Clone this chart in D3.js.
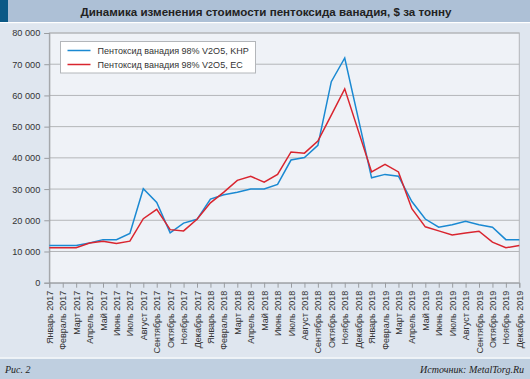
<!DOCTYPE html>
<html>
<head>
<meta charset="utf-8">
<script src="https://cdn.jsdelivr.net/npm/d3@7"></script>
<style>
  body { margin: 0; background: #dfe6ef; }
  svg { display: block; font-family: "Liberation Sans", Arial, sans-serif; }
</style>
</head>
<body>
<svg width="530" height="379"></svg>
<script>
// месяцы
var months = ["Январь 2017","Февраль 2017","Март 2017","Апрель 2017","Май 2017","Июнь 2017","Июль 2017","Август 2017","Сентябрь 2017","Октябрь 2017","Ноябрь 2017","Декабрь 2017",
  "Январь 2018","Февраль 2018","Март 2018","Апрель 2018","Май 2018","Июнь 2018","Июль 2018","Август 2018","Сентябрь 2018","Октябрь 2018","Ноябрь 2018","Декабрь 2018",
  "Январь 2019","Февраль 2019","Март 2019","Апрель 2019","Май 2019","Июнь 2019","Июль 2019","Август 2019","Сентябрь 2019","Октябрь 2019","Ноябрь 2019","Декабрь 2019"];

// KHP
var khp = [11900,11900,11900,12700,13800,13800,15800,30100,25700,16000,19100,20300,
  26800,28200,29000,30000,30000,31500,39300,40100,44000,64400,72000,52800,
  33600,34700,34100,26000,20400,17800,18600,19700,18600,17800,13800,13800];
// EC
var ec = [11200,11200,11200,12700,13300,12600,13300,20500,23500,17000,16600,20300,
  25600,29000,32800,34100,32200,34700,41900,41500,45400,53700,62100,48800,
  35500,37900,35500,23700,17900,16600,15300,15900,16500,13000,11200,11900];

var seriesNames = ["Пентоксид ванадия 98% V2O5, KHP", "Пентоксид ванадия 98% V2O5, EC"];
var seriesColors = ["#1a89d2", "#d9252f"];
var yTicks = [0,10000,20000,30000,40000,50000,60000,70000,80000];

var svg = d3.select("svg");
var W = 530, H = 379;
var margin = {top: 33, right: 10.7, bottom: 96.3, left: 49.3};

// фон
svg.append("rect").attr("width", W).attr("height", H).attr("fill", "#dfe6ef");

// заголовок
svg.append("rect").attr("x", 0).attr("y", 0).attr("width", W).attr("height", 22).attr("fill", "#adc0d6");
svg.append("rect").attr("x", 0).attr("y", 0).attr("width", 8).attr("height", 22).attr("fill", "#0b5986");
svg.append("rect").attr("x", 0).attr("y", 22).attr("width", W).attr("height", 1.2).attr("fill", "#ffffff");
svg.append("text")
  .attr("x", 266).attr("y", 15.5)
  .attr("text-anchor", "middle")
  .attr("font-size", 11.6).attr("font-weight", "bold").attr("fill", "#222")
  .text("Динамика изменения стоимости пентоксида ванадия, $ за тонну");

// подвал
svg.append("rect").attr("x", 0).attr("y", 357.5).attr("width", W).attr("height", 1.3).attr("fill", "#ffffff");
svg.append("rect").attr("x", 0).attr("y", 358.8).attr("width", W).attr("height", H - 358.8).attr("fill", "#bfcfe0");
svg.append("text")
  .attr("x", 5).attr("y", 372.5)
  .attr("font-family", "'Liberation Serif', 'DejaVu Serif', serif")
  .attr("font-style", "italic").attr("font-size", 10).attr("fill", "#222")
  .text("Рис. 2");
svg.append("text")
  .attr("x", 524).attr("y", 372.5)
  .attr("text-anchor", "end")
  .attr("font-family", "'Liberation Serif', 'DejaVu Serif', serif")
  .attr("font-style", "italic").attr("font-size", 10).attr("fill", "#222")
  .text("Источник: MetalTorg.Ru");

var x0 = margin.left, x1 = W - margin.right;
var y0 = H - margin.bottom, y1 = margin.top;

var x = d3.scalePoint().domain(months).range([x0, x1]);
var y = d3.scaleLinear().domain([0, 80000]).range([y0, y1]);

var locale = d3.formatLocale({decimal: ",", thousands: " ", grouping: [3], currency: ["", ""]});
var fmt = locale.format(",");

// область графика
svg.append("rect")
  .attr("x", x0).attr("y", y1).attr("width", x1 - x0).attr("height", y0 - y1)
  .attr("fill", "#eff2f7").attr("stroke", "#b3b6ba").attr("stroke-width", 1);

// сетка
svg.append("g").selectAll("line")
  .data(yTicks.filter(function (d) { return d > 0; }))
  .enter().append("line")
  .attr("x1", x0).attr("x2", x1)
  .attr("y1", function (d) { return y(d); })
  .attr("y2", function (d) { return y(d); })
  .attr("stroke", "#b4b6b9").attr("stroke-width", 1);

// ось Y
var yAxis = svg.append("g")
  .attr("transform", "translate(" + x0 + ",0)")
  .call(d3.axisLeft(y).tickValues(yTicks).tickFormat(fmt).tickSize(5).tickPadding(4));
yAxis.select(".domain").attr("stroke", "#9a9da1");
yAxis.selectAll(".tick line").attr("stroke", "#9a9da1");
yAxis.selectAll("text").attr("font-size", 9.2).attr("fill", "#333").attr("font-family", "'Liberation Sans', Arial, sans-serif");

// ось X
var xAxis = svg.append("g")
  .attr("transform", "translate(0," + y0 + ")")
  .call(d3.axisBottom(x).tickSize(5).tickPadding(3));
xAxis.select(".domain").attr("stroke", "#9a9da1");
xAxis.selectAll(".tick line").attr("stroke", "#9a9da1");
xAxis.selectAll("text")
  .attr("font-size", 9).attr("fill", "#333").attr("font-family", "'Liberation Sans', Arial, sans-serif")
  .attr("text-anchor", "end")
  .attr("dy", null)
  .attr("transform", "translate(3,8) rotate(-90)")
  .attr("y", 0).attr("x", 0);

// линии
var line = d3.line()
  .x(function (d, i) { return x(months[i]); })
  .y(function (d) { return y(d); });

[khp, ec].forEach(function (s, k) {
  svg.append("path")
    .datum(s)
    .attr("fill", "none")
    .attr("stroke", seriesColors[k])
    .attr("stroke-width", 1.5)
    .attr("stroke-linejoin", "miter")
    .attr("d", line);
});

// легенда
var lg = svg.append("g").attr("transform", "translate(60.5,41.5)");
lg.append("rect").attr("width", 195).attr("height", 31.5)
  .attr("fill", "#ffffff").attr("stroke", "#b3b6ba").attr("stroke-width", 1);
seriesNames.forEach(function (n, k) {
  var yy = 9 + k * 14;
  lg.append("line").attr("x1", 7).attr("x2", 30).attr("y1", yy).attr("y2", yy)
    .attr("stroke", seriesColors[k]).attr("stroke-width", 1.5);
  lg.append("text").attr("x", 37).attr("y", yy + 3.2)
    .attr("font-size", 9).attr("fill", "#333")
    .text(n);
});
</script>
</body>
</html>
